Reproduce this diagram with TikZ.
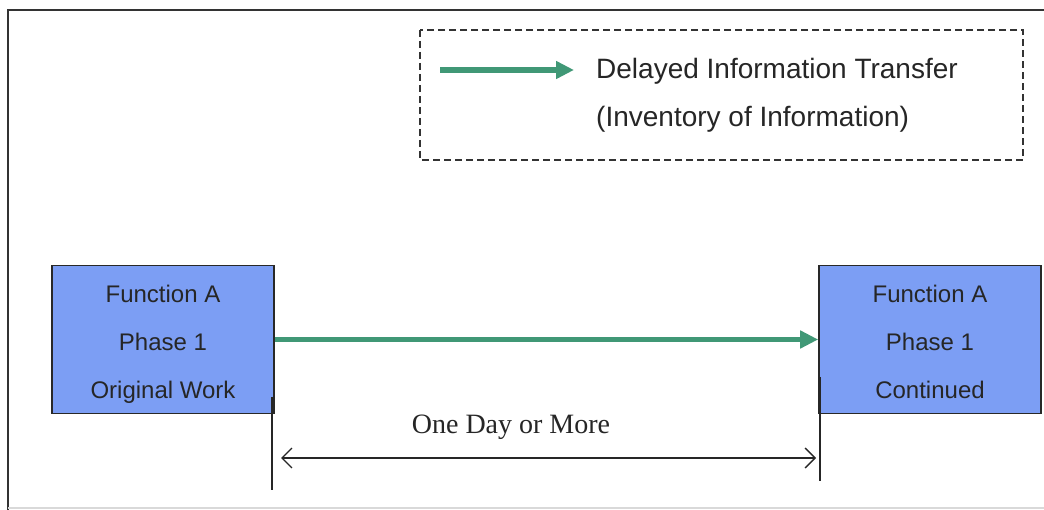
\documentclass[tikz,border=0pt]{standalone}
\usepackage{fontspec}
\setmainfont{Liberation Serif}
\setsansfont{Liberation Sans}
\usetikzlibrary{arrows.meta}
\definecolor{flowgreen}{RGB}{64,152,118}
\definecolor{boxblue}{RGB}{124,158,244}
\definecolor{edgegray}{RGB}{40,40,40}
\tikzset{
  funcbox/.style={draw=edgegray, line width=1.6pt, fill=boxblue,
    minimum width=222pt, minimum height=148pt, inner sep=0pt},
  boxtext/.style={inner sep=0pt, align=center,
    font=\sffamily\fontsize{24}{48}\selectfont, text=black!85},
  infoflow/.style={draw=flowgreen, line width=5.5pt,
    -{Triangle[length=18pt,width=17pt]}},
  legendtext/.style={anchor=west, inner sep=0pt,
    font=\sffamily\fontsize{28}{34}\selectfont, text=black!85},
  spanline/.style={draw=black!85, line width=1.3pt,
    {Straight Barb[length=10pt,width=20pt]}-{Straight Barb[length=10pt,width=20pt]}},
  tickline/.style={draw=black!85, line width=1.6pt}
}
\begin{document}
\begin{tikzpicture}[x=1pt,y=-1pt]
\useasboundingbox (0,0) rectangle (1044,510);
\fill[white] (0,0) rectangle (1044,510);

% outer frame
\draw[black!80, line width=2pt] (8,510) -- (8,10) -- (1044,10);
\draw[black!15, line width=1.5pt] (8,508) -- (1044,508);

% legend
\draw[black!80, line width=1.3pt, dash pattern=on 7pt off 4pt] (420,30) rectangle (1023,160);
\coordinate (lgA) at (440,70);
\coordinate (lgB) at (574,70);
\draw[infoflow] (lgA) -- (lgB);
\node[legendtext] (lgt1) at (596,71) {Delayed Information Transfer};
\node[legendtext] (lgt2) at (596,119) {(Inventory of Information)};

% function boxes
\node[funcbox] (orig) at (163,339.5) {};
\node[funcbox] (cont) at (930,339.5) {};
\node[boxtext] (origtxt) at (163,344) {Function A\\Phase 1\\Original Work};
\node[boxtext] (conttxt) at (930,344) {Function A\\Phase 1\\Continued\vphantom{g}};

% delayed transfer
\draw[infoflow] (orig.east) -- (cont.west);

% time span
\coordinate (tA1) at (272,397);
\coordinate (tA2) at (272,490);
\coordinate (tB1) at (820,377);
\coordinate (tB2) at (820,481);
\draw[tickline] (tA1) -- (tA2);
\draw[tickline] (tB1) -- (tB2);
\coordinate (sA) at (281,458);
\coordinate (sB) at (816,458);
\draw[spanline] (sA) -- (sB);
\node[font=\fontsize{28}{34}\selectfont, text=black!85, inner sep=0pt] (span) at (511,427) {One Day or More};
\end{tikzpicture}
\end{document}
